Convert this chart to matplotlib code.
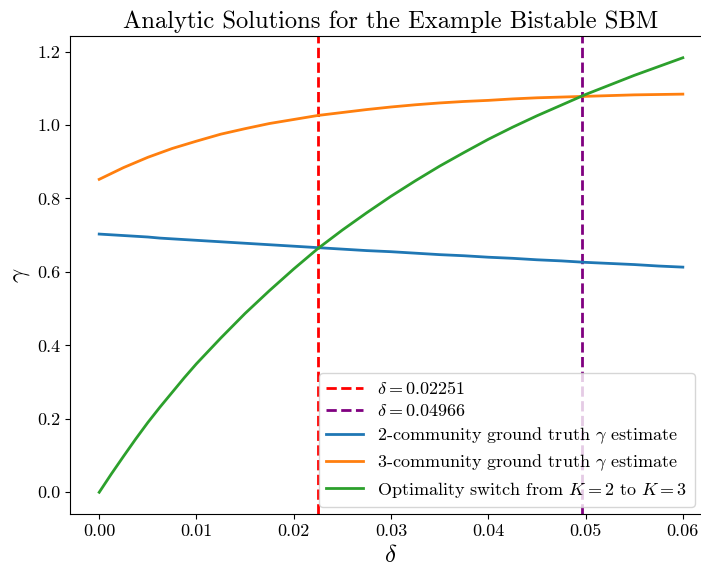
import matplotlib
matplotlib.use("Agg")
import matplotlib.pyplot as plt

plt.rcParams["font.family"] = "serif"
plt.rcParams["font.serif"] = ["cmr10"]
plt.rcParams["mathtext.fontset"] = "cm"
plt.rcParams["axes.formatter.use_mathtext"] = True

delta = [0.00000, 0.00125, 0.00250, 0.00375, 0.00500, 0.00625, 0.00750,
         0.00875, 0.01000, 0.0125, 0.0150, 0.0175,
         0.0200, 0.0225, 0.0250, 0.0275, 0.0300, 0.0325, 0.0350, 0.0375,
         0.0400, 0.0425, 0.0450, 0.0475, 0.0500, 0.0525, 0.0550, 0.0575,
         0.0600]

gamma_two = [0.703, 0.701, 0.699, 0.697, 0.695, 0.692, 0.690, 0.688,
             0.686, 0.682, 0.678, 0.674,
             0.670, 0.666, 0.662, 0.658, 0.655, 0.651, 0.647, 0.644,
             0.640, 0.637, 0.633, 0.630, 0.626, 0.623, 0.620, 0.616,
             0.613]

gamma_three = [0.852, 0.868, 0.884, 0.898, 0.912, 0.924, 0.936, 0.946,
               0.956, 0.975, 0.990, 1.004,
               1.015, 1.026, 1.034, 1.042, 1.049, 1.055, 1.060, 1.064,
               1.067, 1.071, 1.074, 1.076, 1.078, 1.080, 1.082, 1.083,
               1.084]

gamma_switch = [0.000, 0.050, 0.098, 0.145, 0.190, 0.232, 0.272, 0.312,
                0.350, 0.420, 0.487, 0.549,
                0.608, 0.664, 0.714, 0.761, 0.806, 0.848, 0.888, 0.925,
                0.961, 0.994, 1.025, 1.054, 1.083, 1.109, 1.135, 1.159,
                1.183]

delta_lo = 0.02251
delta_hi = 0.04966

fig = plt.figure(figsize=(7.01, 5.70), dpi=100)
ax = fig.add_axes([0.0999, 0.0982, 0.9158, 0.8386])

ax.axvline(delta_lo, color="red", ls="--", lw=2, label=rf"$\delta = {delta_lo}$")
ax.axvline(delta_hi, color="purple", ls="--", lw=2, label=rf"$\delta = {delta_hi}$")
ax.plot(delta, gamma_two, color="#1f77b4", lw=2,
        label=r"2-community ground truth $\gamma$ estimate")
ax.plot(delta, gamma_three, color="#ff7f0e", lw=2,
        label=r"3-community ground truth $\gamma$ estimate")
ax.plot(delta, gamma_switch, color="#2ca02c", lw=2,
        label=r"Optimality switch from $K=2$ to $K=3$")

ax.set_xlim(-0.003, 0.063)
ax.set_ylim(-0.0592, 1.2422)
ax.set_xticks([0.00, 0.01, 0.02, 0.03, 0.04, 0.05, 0.06])
ax.set_xticklabels(["0.00", "0.01", "0.02", "0.03", "0.04", "0.05", "0.06"])
ax.set_yticks([0.0, 0.2, 0.4, 0.6, 0.8, 1.0, 1.2])
ax.set_yticklabels(["0.0", "0.2", "0.4", "0.6", "0.8", "1.0", "1.2"])
ax.tick_params(labelsize=13)

ax.set_xlabel(r"$\delta$", fontsize=18)
ax.set_ylabel(r"$\gamma$", fontsize=18)
ax.set_title("Analytic Solutions for the Example Bistable SBM", fontsize=17.7)

ax.legend(loc="lower right", bbox_to_anchor=(0.984, 0.0), fontsize=13,
          labelspacing=0.35, borderaxespad=0.4)

fig.savefig("out.png", dpi=100)
